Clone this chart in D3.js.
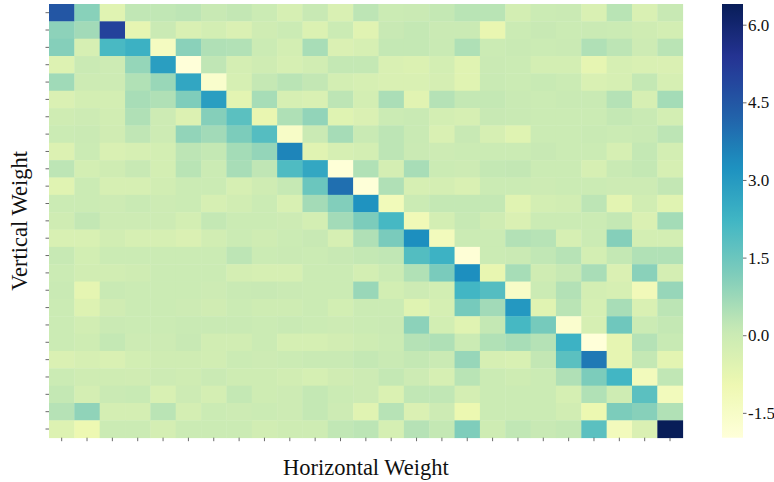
<!DOCTYPE html>
<html>
<head>
<meta charset="utf-8">
<script src="https://cdn.jsdelivr.net/npm/d3@7"></script>
<style>
  body { margin: 0; background: #fff; }
  svg { display: block; }
  svg text { font-family: "Liberation Serif", "Times New Roman", serif; }
</style>
</head>
<body>
<div id="chart"></div>
<script>
// row / column indices of the weight matrix
const rowIds = ["0","1","2","3","4","5","6","7","8","9","10","11","12","13","14","15","16","17","18","19","20","21","22","23","24"];
const colIds = ["0","1","2","3","4","5","6","7","8","9","10","11","12","13","14","15","16","17","18","19","20","21","22","23","24"];

// weights, one array per row
const weights = [
  [4.50, 1.03, -0.57, 0.20, 0.20, 0.26, 0.10, 0.18, 0.00, -0.30, 0.10, -0.38, 0.26, 0.00, 0.03, 0.16, 0.32, 0.32, -0.22, 0.00, 0.02, -0.38, 0.32, -0.38, 0.10],
  [0.96, 0.66, 5.00, -0.74, 0.03, -0.38, -0.22, -0.40, -0.10, 0.00, -0.43, 0.00, -0.57, 0.10, 0.16, 0.03, 0.03, -0.82, 0.00, 0.10, 0.00, 0.03, 0.00, -0.10, -0.22],
  [1.08, -0.30, 2.08, 2.35, -1.35, 1.00, 0.45, 0.42, 0.00, -0.22, 0.56, -0.40, -0.30, 0.16, 0.16, 0.06, 0.47, 0.00, 0.06, 0.00, 0.03, 0.45, 0.26, -0.05, 0.30],
  [-0.50, 0.03, -0.05, 0.84, 2.89, -1.98, 0.22, -0.25, -0.10, -0.30, -0.15, 0.16, 0.16, -0.38, -0.43, -0.22, -0.57, 0.03, 0.00, -0.22, -0.22, -0.74, -0.30, -0.38, -0.40],
  [0.68, -0.05, -0.05, 0.43, 0.78, 2.65, -1.65, -0.30, 0.14, 0.30, 0.18, -0.22, -0.30, -0.38, -0.38, -0.26, -0.57, 0.05, 0.00, 0.08, 0.00, -0.38, -0.30, 0.16, -0.30],
  [-0.40, -0.22, -0.22, 0.56, 0.45, 1.16, 2.89, -0.66, 0.58, -0.30, -0.38, 0.26, -0.22, 0.52, -0.60, 0.38, 0.16, 0.16, 0.06, 0.00, 0.06, 0.06, 0.38, -0.30, 0.62],
  [-0.10, -0.05, -0.15, 0.45, -0.05, -0.46, 1.08, 1.77, -0.82, 0.47, 0.89, -0.55, -0.40, 0.00, 0.05, -0.22, -0.30, 0.10, 0.06, 0.00, 0.00, 0.00, 0.16, 0.06, -0.22],
  [0.00, 0.03, -0.12, 0.22, -0.05, 0.89, 0.66, 1.21, 1.88, -1.52, 0.03, 0.60, 0.06, 0.26, 0.06, -0.38, 0.10, -0.30, -0.55, 0.00, 0.00, 0.06, 0.00, 0.06, 0.26],
  [-0.46, 0.00, -0.38, -0.30, -0.22, 0.26, 0.16, 0.62, 0.85, 3.50, -0.57, -0.30, -0.22, 0.26, 0.03, -0.05, 0.00, 0.00, 0.00, 0.10, 0.00, 0.00, -0.30, 0.16, -0.22],
  [0.26, -0.22, -0.10, 0.10, -0.22, 0.32, 0.00, 0.56, 0.22, 1.97, 2.63, -1.93, 0.43, -0.25, 0.56, 0.00, -0.05, 0.16, 0.18, 0.00, 0.00, -0.30, 0.06, 0.16, -0.30],
  [-0.57, 0.00, -0.30, -0.30, -0.15, 0.00, 0.00, -0.30, -0.10, 0.13, 1.50, 3.95, -1.95, 0.45, -0.30, -0.25, -0.38, 0.00, 0.00, -0.05, 0.00, 0.00, -0.05, -0.05, 0.18],
  [0.00, 0.00, -0.05, 0.05, -0.05, 0.00, -0.30, -0.15, 0.00, -0.35, 0.63, 1.12, 3.20, -1.18, 0.00, 0.16, 0.16, 0.16, -0.57, -0.22, -0.15, 0.26, -0.66, -0.15, -0.57],
  [-0.10, 0.18, -0.05, -0.05, -0.05, -0.22, 0.16, 0.00, 0.00, -0.05, -0.22, 0.64, 1.21, 2.12, -1.10, -0.22, 0.12, -0.10, -0.40, 0.00, 0.00, 0.00, 0.16, -0.40, 0.62],
  [-0.35, -0.35, -0.15, -0.30, -0.30, -0.40, -0.15, 0.00, -0.10, 0.00, 0.10, -0.30, 0.45, 1.25, 3.30, -1.22, 0.00, 0.00, 0.40, 0.35, -0.30, 0.00, 1.08, -0.22, -0.22],
  [0.12, -0.20, 0.00, 0.00, 0.00, 0.00, 0.00, 0.26, 0.00, 0.03, 0.00, 0.10, 0.16, 0.20, 1.90, 2.32, -1.90, 0.00, 0.03, 0.20, 0.35, -0.22, 0.16, 0.43, 0.43],
  [0.00, -0.15, -0.15, -0.10, 0.00, 0.00, 0.00, -0.25, -0.30, -0.30, 0.00, 0.00, -0.22, 0.00, 0.43, 1.25, 3.30, -0.80, 0.58, -0.10, 0.12, 0.55, -0.40, 1.00, -0.25],
  [0.05, -0.70, 0.06, 0.00, 0.00, 0.00, -0.05, 0.06, 0.10, 0.03, 0.00, 0.00, 0.78, -0.20, -0.05, -0.20, 2.20, 1.87, -1.52, 0.00, 0.40, -0.22, -0.30, -1.15, 0.82],
  [0.00, -0.50, -0.12, 0.00, 0.00, -0.05, -0.12, 0.00, -0.08, -0.08, 0.00, -0.20, 0.00, 0.00, -0.55, -0.28, 1.31, 0.66, 3.05, -0.57, 0.30, -0.28, 0.56, -0.38, 0.28],
  [0.00, -0.15, 0.03, 0.00, 0.00, 0.05, 0.05, 0.05, 0.00, 0.06, 0.00, -0.05, 0.00, 0.03, 0.98, -0.20, -0.57, 0.16, 2.13, 1.31, -1.69, -0.30, 1.43, 0.00, 0.16],
  [0.00, -0.08, 0.16, -0.05, -0.05, 0.10, -0.15, -0.15, 0.00, -0.28, -0.28, -0.18, -0.08, 0.00, 0.38, 0.47, 0.00, 0.43, 0.56, 0.38, 2.32, -1.97, -0.74, 0.38, 0.08],
  [-0.40, -0.30, -0.38, -0.20, -0.10, -0.10, -0.15, 0.00, -0.05, 0.00, 0.05, 0.05, 0.16, 0.05, 0.16, 0.03, 0.82, -0.30, -0.35, 0.18, 1.77, 3.75, -0.74, 0.16, -0.66],
  [0.00, -0.10, -0.10, -0.12, -0.05, -0.10, 0.03, -0.08, -0.08, -0.15, -0.28, -0.12, -0.05, 0.16, -0.05, -0.30, 0.32, 0.00, -0.08, 0.00, 0.45, 1.21, 2.20, -1.22, 0.20],
  [0.16, -0.25, 0.03, 0.08, -0.35, -0.05, -0.25, 0.16, -0.08, -0.05, 0.16, 0.00, -0.05, -0.42, 0.20, 0.20, -0.25, 0.00, 0.00, 0.00, -0.28, 0.43, -0.08, 1.77, -1.22],
  [0.36, 0.92, -0.25, -0.25, 0.30, -0.25, 0.00, -0.05, 0.00, -0.05, 0.16, -0.05, -0.57, 0.35, -0.40, -0.05, -0.90, 0.00, 0.00, 0.00, -0.15, -0.90, 1.21, 1.05, 0.43],
  [-0.50, -0.95, 0.00, 0.00, -0.25, 0.00, 0.00, 0.00, -0.15, -0.08, -0.08, 0.20, 0.28, -0.28, 0.36, 0.16, 1.16, -0.08, 0.20, 0.10, 0.16, 1.77, -1.22, -0.40, 6.40]
];

// colorbar tick values
const cbarTicks = [-1.5, 0.0, 1.5, 3.0, 4.5, 6.0];

const width = 774;
const height = 482;
const margin = {top: 4, left: 49, right: 91.3, bottom: 44.3};

const svg = d3.select("#chart")
  .append("svg")
  .attr("width", width)
  .attr("height", height);

const x = d3.scaleBand()
  .domain(colIds)
  .range([margin.left, width - margin.right]);

const y = d3.scaleBand()
  .domain(rowIds)
  .range([margin.top, height - margin.bottom]);

// YlGnBu like matplotlib: linear between the 9 brewer colours
const vmin = d3.min(weights, r => d3.min(r));
const vmax = d3.max(weights, r => d3.max(r));
const stops = d3.schemeYlGnBu[9];
const color = d3.scaleLinear()
  .domain(stops.map((c, i) => vmin + (vmax - vmin) * i / (stops.length - 1)))
  .range(stops)
  .interpolate(d3.interpolateRgb)
  .clamp(true);

const cells = [];
weights.forEach((row, i) => row.forEach((v, j) => cells.push({r: rowIds[i], c: colIds[j], v})));

svg.append("g")
  .selectAll("rect")
  .data(cells)
  .join("rect")
    .attr("x", d => x(d.c))
    .attr("y", d => y(d.r))
    .attr("width", x.bandwidth() + 0.4)
    .attr("height", y.bandwidth() + 0.4)
    .attr("fill", d => color(d.v));

// axes: ticks only, no labels
const yAxis = g => g
  .attr("transform", `translate(${margin.left},0)`)
  .call(d3.axisLeft(y).tickSize(3.5).tickFormat(""))
  .call(g => g.select(".domain").remove())
  .call(g => g.selectAll("line").attr("stroke", "#444").attr("stroke-width", 0.8));

const xAxis = g => g
  .attr("transform", `translate(0,${height - margin.bottom})`)
  .call(d3.axisBottom(x).tickSize(3.5).tickFormat(""))
  .call(g => g.select(".domain").remove())
  .call(g => g.selectAll("line").attr("stroke", "#444").attr("stroke-width", 0.8));

svg.append("g").call(yAxis);
svg.append("g").call(xAxis);

svg.append("text")
  .attr("x", (x.range()[0] + x.range()[1]) / 2)
  .attr("y", 475)
  .attr("text-anchor", "middle")
  .style("font-size", "22.5px")
  .attr("fill", "#111")
  .text("Horizontal Weight");

svg.append("text")
  .attr("transform", `translate(26.5,${(y.range()[0] + y.range()[1]) / 2}) rotate(-90)`)
  .attr("text-anchor", "middle")
  .style("font-size", "22.5px")
  .attr("fill", "#111")
  .text("Vertical Weight");

// colorbar
const cbX = 722, cbW = 21;
const cy = d3.scaleLinear()
  .domain([vmin, vmax])
  .range([height - margin.bottom, margin.top]);

const grad = svg.append("defs").append("linearGradient")
  .attr("id", "cbar")
  .attr("x1", 0).attr("y1", 1).attr("x2", 0).attr("y2", 0);
grad.selectAll("stop")
  .data(d3.range(0, 1.0001, 0.02))
  .join("stop")
    .attr("offset", t => t)
    .attr("stop-color", t => color(vmin + t * (vmax - vmin)));

svg.append("rect")
  .attr("x", cbX)
  .attr("y", cy(vmax))
  .attr("width", cbW)
  .attr("height", cy(vmin) - cy(vmax))
  .attr("fill", "url(#cbar)");

const fmt = d3.formatLocale({decimal: ".", thousands: ",", grouping: [3], currency: ["", ""], minus: "-"}).format(".1f");

svg.append("g")
  .attr("transform", `translate(${cbX + cbW},0)`)
  .call(d3.axisRight(cy).tickValues(cbarTicks).tickFormat(fmt).tickSize(3.5).tickPadding(1.5))
  .call(g => g.select(".domain").remove())
  .call(g => g.selectAll("line").attr("stroke", "#444").attr("stroke-width", 0.8))
  .call(g => g.selectAll("text").style("font-size", "17px").attr("fill", "#111"));
</script>
</body>
</html>
